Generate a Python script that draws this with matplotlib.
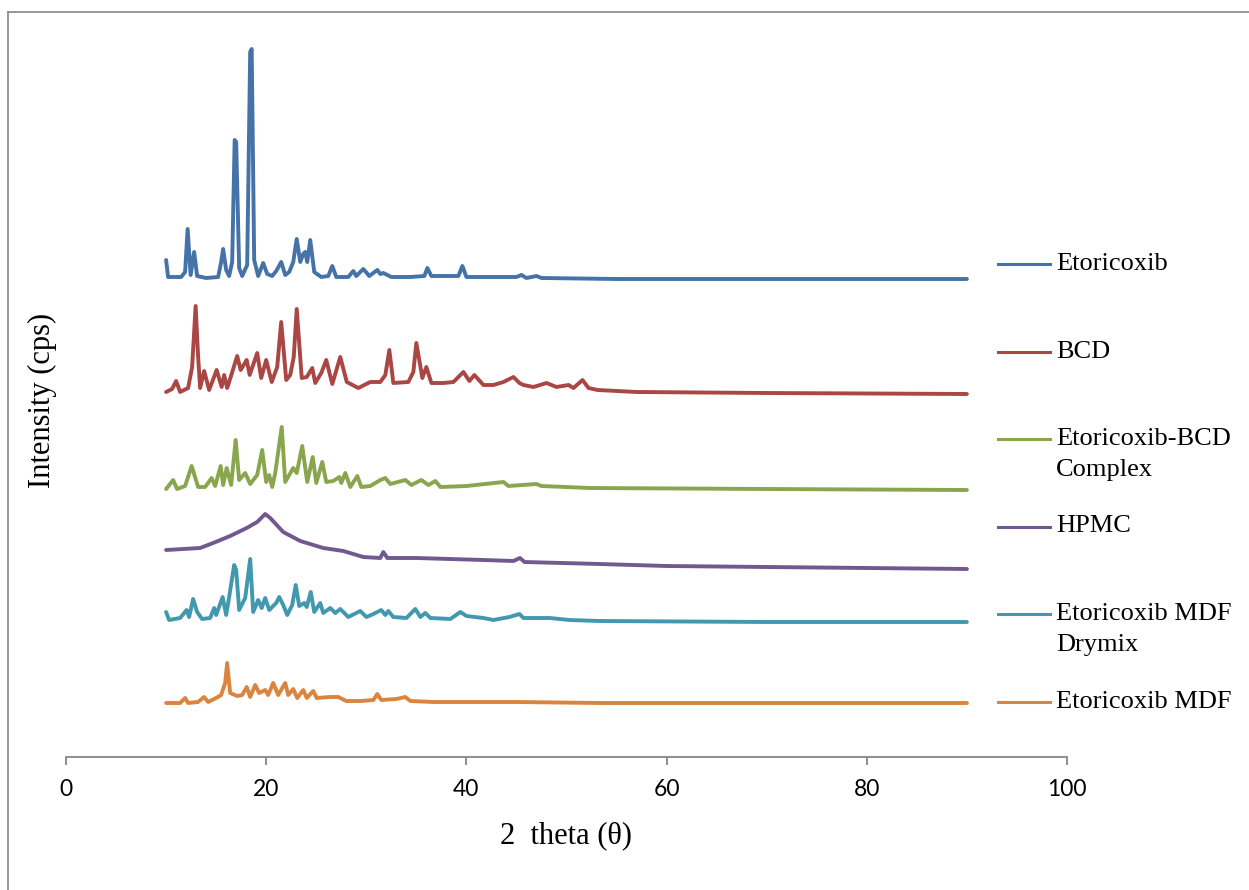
import matplotlib
matplotlib.use("Agg")
import matplotlib.pyplot as plt
from matplotlib.lines import Line2D

# 2-theta positions and stacked intensities (arbitrary units, traces offset)
etori_x = [10.0, 10.2, 11.5, 11.9, 12.15, 12.45, 12.8, 13.1, 14.0, 15.2, 15.5, 15.7, 16.0, 16.3, 16.6,
           16.85, 17.0, 17.3, 17.6, 18.1, 18.4, 18.55, 18.8, 19.2, 19.7, 20.1, 20.6, 21.0, 21.5, 21.9,
           22.3, 22.7, 23.05, 23.4, 23.7, 23.9, 24.1, 24.4, 24.8, 25.5, 26.2, 26.6, 27.0, 28.2, 28.7,
           29.0, 29.7, 30.3, 31.1, 31.4, 31.7, 32.5, 34.4, 35.8, 36.1, 36.5, 39.2, 39.6, 40.0, 45.0,
           45.5, 46.0, 47.0, 47.5, 55.0, 70.0, 90.0]
etori_y = [497, 480, 480, 485, 528, 482, 505, 481, 479, 480, 495, 508, 487, 481, 495,
           617, 615, 489, 481, 492, 705, 708, 497, 481, 494, 483, 481, 486, 495, 482,
           485, 495, 518, 495, 503, 505, 495, 517, 485, 480, 481, 491, 480, 480, 486,
           481, 488, 481, 487, 483, 484, 480, 480, 481, 489, 481, 481, 491, 480, 480,
           482, 479, 481, 479, 478, 478, 478]

bcd_x = [10.0, 10.6, 11.0, 11.4, 12.2, 12.6, 12.95, 13.2, 13.4, 13.8, 14.3, 15.05, 15.55, 15.8, 16.1,
         16.55, 17.1, 17.45, 18.05, 18.35, 19.1, 19.5, 20.0, 20.55, 21.1, 21.5, 22.0, 22.4, 22.75,
         23.05, 23.55, 24.05, 24.6, 24.9, 25.5, 26.0, 26.6, 27.4, 28.05, 29.2, 30.4, 31.4, 31.9,
         32.3, 32.7, 34.2, 34.7, 35.0, 35.6, 36.0, 36.5, 37.7, 38.7, 39.7, 40.3, 40.8, 41.7, 42.7,
         43.7, 44.7, 45.3, 45.7, 46.7, 48.0, 49.0, 50.2, 50.7, 51.6, 52.2, 53.1, 57.0, 70.0, 90.0]
bcd_y = [365, 368, 376, 365, 369, 390, 451, 400, 369, 386, 367, 387, 370, 382, 369,
         383, 401, 387, 397, 382, 404, 379, 397, 375, 390, 435, 377, 382, 400,
         448, 379, 380, 389, 374, 384, 397, 373, 400, 375, 369, 375, 375, 382,
         407, 374, 375, 385, 414, 379, 390, 374, 374, 375, 385, 376, 382, 372, 372,
         375, 380, 374, 372, 370, 374, 370, 372, 369, 377, 369, 367, 365, 364, 363]

complex_x = [10.0, 10.7, 11.1, 11.9, 12.55, 13.2, 13.9, 14.55, 14.9, 15.45, 15.7, 16.05, 16.5, 16.95,
             17.3, 17.9, 18.4, 19.1, 19.6, 20.0, 20.3, 20.6, 20.9, 21.55, 21.9, 22.7, 23.05, 23.6,
             24.1, 24.65, 25.0, 25.6, 26.0, 26.7, 27.3, 27.5, 27.9, 28.4, 29.1, 29.5, 30.4, 31.4,
             31.9, 32.4, 33.9, 34.5, 35.5, 36.2, 36.9, 37.4, 40.0, 43.7, 44.2, 47.0, 47.5, 52.3,
             70.0, 90.0]
complex_y = [268, 277, 268, 271, 291, 270, 270, 279, 271, 291, 272, 289, 272, 317,
             277, 284, 273, 282, 307, 275, 282, 270, 284, 330, 275, 289, 284, 311,
             275, 300, 274, 295, 275, 276, 280, 274, 284, 270, 281, 270, 271, 277,
             279, 273, 277, 272, 277, 272, 276, 270, 271, 275, 271, 273, 271, 269,
             268, 267]

hpmc_x = [10.0, 13.4, 14.7, 16.4, 18.05, 19.1, 19.9, 20.4, 21.7, 23.4, 25.7, 27.7, 29.7, 31.4, 31.7,
          32.1, 35.0, 41.7, 44.7, 45.35, 45.8, 53.3, 60.0, 70.0, 90.0]
hpmc_y = [207, 209, 214, 221, 229, 235, 243, 239, 225, 216, 209, 206, 200, 199, 205,
          199, 199, 197, 196, 199, 195, 193, 191, 190, 188]

drymix_x = [10.0, 10.3, 11.4, 12.05, 12.3, 12.7, 13.1, 13.6, 14.4, 14.8, 15.0, 15.65, 16.0, 16.3,
            16.8, 17.0, 17.3, 17.9, 18.4, 18.7, 19.2, 19.55, 19.9, 20.3, 21.0, 21.3, 21.7, 22.1,
            22.6, 22.95, 23.3, 23.8, 24.05, 24.45, 24.8, 25.4, 25.7, 26.4, 26.9, 27.4, 28.2, 29.4,
            30.0, 30.5, 31.5, 31.9, 32.2, 32.7, 34.0, 34.9, 35.4, 35.9, 36.4, 38.4, 39.4, 40.0,
            41.7, 42.7, 44.3, 45.3, 45.7, 48.3, 50.3, 53.3, 70.0, 90.0]
drymix_y = [145, 137, 139, 147, 140, 158, 145, 138, 139, 149, 142, 160, 142, 160,
            192, 187, 147, 159, 198, 145, 157, 149, 159, 147, 154, 160, 152, 142,
            152, 172, 151, 154, 150, 165, 145, 154, 144, 149, 144, 148, 140, 146,
            140, 142, 147, 142, 146, 140, 139, 148, 140, 144, 139, 138, 145, 141,
            139, 137, 140, 143, 139, 139, 137, 136, 135, 135]

mdf_x = [10.0, 11.4, 11.9, 12.2, 13.2, 13.8, 14.2, 15.0, 15.5, 15.9, 16.1, 16.4, 17.1, 17.6, 18.05,
         18.4, 18.9, 19.3, 19.9, 20.2, 20.7, 21.2, 21.9, 22.2, 22.7, 23.1, 23.7, 24.05, 24.7, 25.05,
         26.4, 27.2, 28.0, 29.4, 30.7, 31.1, 31.5, 33.0, 33.9, 34.4, 36.7, 45.0, 53.3, 90.0]
mdf_y = [54, 54, 59, 54, 55, 60, 55, 59, 62, 74, 94, 64, 61, 62, 70,
         60, 72, 64, 67, 62, 74, 62, 74, 62, 68, 59, 67, 59, 66, 59,
         60, 60, 56, 56, 57, 63, 57, 58, 60, 56, 55, 55, 54, 54]

labels = ["Etoricoxib", "BCD", "Etoricoxib-BCD\nComplex", "HPMC",
          "Etoricoxib MDF\nDrymix", "Etoricoxib MDF"]
colors = ["#4572A7", "#AA4643", "#89A54E", "#71588F", "#4198AF", "#DB843D"]

W, H = 1249, 890
fig = plt.figure(figsize=(W / 100, H / 100), dpi=100)
ax = fig.add_axes([66 / W, 1 - 757 / H, 1001 / W, 727 / H])

series = [(etori_x, etori_y), (bcd_x, bcd_y), (complex_x, complex_y),
          (hpmc_x, hpmc_y), (drymix_x, drymix_y), (mdf_x, mdf_y)]
for (xs, ys), c in zip(series, colors):
    ax.plot(xs, ys, color=c, lw=2.8, solid_joinstyle="round", solid_capstyle="round")

ax.set_xlim(0, 100)
ax.set_ylim(0, 727)
ax.set_xticks(range(0, 101, 20))
ax.set_yticks([])
for s in ["left", "right", "top"]:
    ax.spines[s].set_visible(False)
ax.spines["bottom"].set_color("#868686")
ax.spines["bottom"].set_linewidth(1.3)
ax.tick_params(axis="x", direction="out", length=6, width=1.3, color="#868686", pad=10)
for t in ax.get_xticklabels():
    t.set_family(["Lato", "DejaVu Sans"])
    t.set_fontsize(16.5)
    t.set_color("black")

serif = ["Liberation Serif", "DejaVu Serif"]
ax.set_xlabel("2  theta (\u03b8)", family=serif, fontsize=22, va="center")
ax.xaxis.set_label_coords(0.5, (757 - 836) / 727)
ax.set_ylabel("Intensity (cps)", family=serif, fontsize=22, va="center")
ax.yaxis.set_label_coords((42.7 - 66) / 1001, (757 - 400) / 727)

# legend, drawn by hand to keep Excel's spacing
leg_y = [264, 351.5, 439, 526.5, 614, 701.5]
for lab, c, yy in zip(labels, colors, leg_y):
    fig.add_artist(Line2D([998 / W, 1050 / W], [1 - yy / H] * 2, color=c, lw=2.2))
    for i, part in enumerate(lab.split("\n")):
        fig.text(1056 / W, 1 - (yy + i * 30.7) / H, part, family=serif, fontsize=19,
                 va="center", ha="left")

# chart frame (right and bottom edges fall outside the image)
fig.add_artist(Line2D([7.5 / W, 7.5 / W], [1 - 11.7 / H, -0.05], color="#868686", lw=1.2))
fig.add_artist(Line2D([7.5 / W, 1.05], [1 - 11.7 / H] * 2, color="#868686", lw=1.2))

fig.savefig("out.png", dpi=100)
